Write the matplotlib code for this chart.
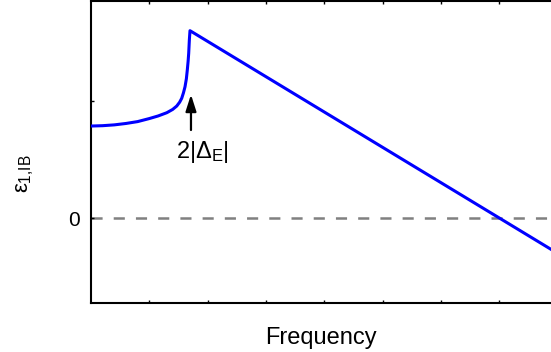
"""Interband dielectric function sketch: epsilon_1,IB vs frequency."""
import matplotlib
matplotlib.use("Agg")
import matplotlib.pyplot as plt  # noqa: E402

plt.rcParams["font.family"] = ["Liberation Sans", "DejaVu Sans"]
plt.rcParams["mathtext.fontset"] = "custom"
plt.rcParams["mathtext.rm"] = "Liberation Sans"
plt.rcParams["mathtext.it"] = "Liberation Sans"
plt.rcParams["lines.scale_dashes"] = False

# curve (frequency in tick units, epsilon in tick units)
freq = [0.0, 0.2, 0.4, 0.6, 0.8, 1.0, 1.15, 1.3, 1.4, 1.47, 1.52, 1.555,
        1.585, 1.612, 1.635, 1.651, 1.665, 1.675, 1.686, 1.697, 7.0, 7.9]
eps1 = [0.786, 0.789, 0.796, 0.808, 0.824, 0.850, 0.872, 0.900, 0.928,
        0.957, 0.990, 1.023, 1.070, 1.122, 1.190, 1.265, 1.340, 1.408,
        1.521, 1.601, 0.0, -0.272]
x_ticks = [1, 2, 3, 4, 5, 6, 7]
y_ticks = [0, 1]
y_ticklabels = ["0", ""]
gap_x = 1.714
arrow_y = (0.752, 1.055)

fig = plt.figure(figsize=(5.51, 3.52), dpi=100)
ax = fig.add_axes([91 / 551, 49 / 352, 460 / 551, 302 / 352])

ax.axhline(0, color="#808080", lw=1.8, dashes=(8, 8), zorder=1)
ax.plot(freq, eps1, color="#0000ff", lw=2.2, zorder=3,
        solid_joinstyle="round")

ax.annotate("", xy=(gap_x, arrow_y[1]), xytext=(gap_x, arrow_y[0]),
            arrowprops=dict(arrowstyle="-|>,head_length=1.0,head_width=0.32",
                            color="black", lw=1.6, mutation_scale=10,
                            shrinkA=0, shrinkB=0))
ax.text(gap_x + 0.2, 0.51, r"$2|\Delta_{E}|$", ha="center", va="baseline",
        fontsize=17)

ax.set_xlim(0, 460 / 58.33)
ax.set_ylim((218 - 303) / 117, (218 - 1) / 117)
ax.set_xticks(x_ticks)
ax.set_xticklabels([])
ax.set_yticks(y_ticks)
ax.set_yticklabels(y_ticklabels, fontsize=15)
ax.tick_params(direction="in", length=2.5, width=1, top=True, pad=8)
ax.spines["right"].set_visible(False)
for side in ("left", "bottom", "top"):
    ax.spines[side].set_linewidth(1.5)

ax.set_xlabel("Frequency", fontsize=17, labelpad=9)
ax.set_ylabel(r"$ε_{1{,}\mathrm{IB}}$", fontsize=16)
ax.yaxis.set_label_coords(-0.12, 0.43)

fig.savefig("out.png", dpi=100)
